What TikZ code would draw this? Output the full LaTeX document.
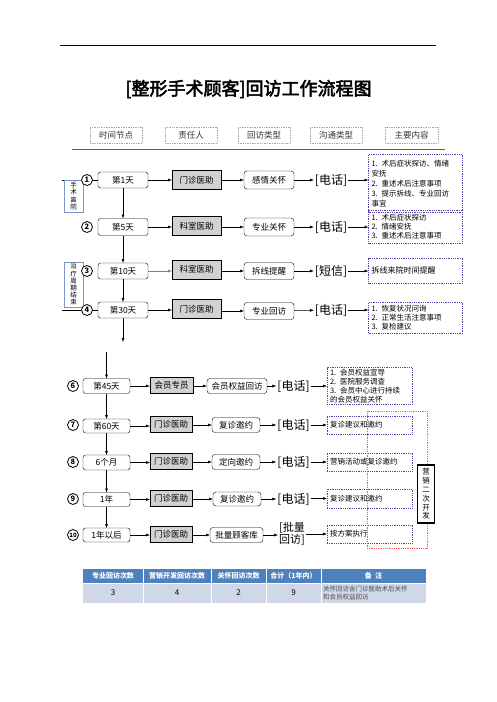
\documentclass[tikz,border=0pt]{standalone}
\usepackage{fontspec}
\setmainfont{Noto Sans CJK SC}
\newfontfamily\cjkbold[FakeBold=3]{Noto Sans CJK SC}
\usetikzlibrary{arrows.meta}
\definecolor{hdrline}{RGB}{70,95,125}
\definecolor{cpurple}{RGB}{90,60,170}
\definecolor{lblue}{RGB}{120,150,200}
\definecolor{tblue}{RGB}{79,129,189}
\definecolor{tbody}{RGB}{208,216,232}
\begin{document}
\begin{tikzpicture}[x=1pt,y=-1pt,
  every node/.style={inner sep=0pt, outer sep=0pt},
  hdr/.style={draw=gray!70, densely dotted, line width=0.7pt, font=\fontsize{8.5}{10}\selectfont, minimum height=16, text=black!80},
  daybox/.style={draw, rounded corners=2.5pt, font=\fontsize{8.5}{10}\selectfont},
  rolebox/.style={draw, fill=gray!35, font=\fontsize{8.5}{10}\selectfont},
  typebox/.style={draw, rounded corners=3pt, font=\fontsize{8.5}{10}\selectfont},
  comm/.style={font=\fontsize{12}{13}\selectfont, inner sep=1pt},
  content/.style={draw=cpurple, densely dotted, line width=0.8pt, align=left, font=\fontsize{7.5}{9.5}\selectfont, inner xsep=3pt},
  circ/.style={draw, circle, fill=white, line width=0.8pt, minimum size=11, font=\fontsize{7.5}{8}\selectfont\bfseries},
  vlabel/.style={draw=lblue, fill=white, align=center, font=\fontsize{6.5}{7.2}\selectfont},
  arr/.style={-{Latex[length=4pt,width=3pt]}, line width=0.5pt},
  th/.style={text=white, font=\fontsize{7}{8}\selectfont\bfseries},
  td/.style={font=\fontsize{8}{9}\selectfont}]
\useasboundingbox (0,0) rectangle (496,702);

% top rule and title
\draw[line width=0.8pt] (60,45) -- (436,45);
\node[font=\cjkbold\fontsize{18}{20}\selectfont] (title) at (248.5,89) {[整形手术顾客]回访工作流程图};

% headers
\node[hdr, minimum width=52] (h1) at (116,135) {时间节点};
\node[hdr, minimum width=52] (h2) at (191,135) {责任人};
\node[hdr, minimum width=52] (h3) at (264,135) {回访类型};
\node[hdr, minimum width=52] (h4) at (336,135) {沟通类型};
\node[hdr, minimum width=53] (h5) at (411.5,135) {主要内容};
\draw[hdrline, line width=1pt] (72,149) -- (445,149);

% ---------- upper section ----------
\node[daybox, minimum width=50, minimum height=16] (d1) at (123,180) {第1天};
\node[rolebox, minimum width=49, minimum height=19] (p1) at (196.5,180) {门诊医助};
\node[typebox, minimum width=50, minimum height=18] (t1) at (269,180) {感情关怀};
\node[comm] (c1) at (331,180) {[电话]};
\node[content, text width=88, minimum height=58, font=\fontsize{7.5}{10}\selectfont] (m1) at (415.5,183.5) {1. 术后症状探访、情绪\\安抚\\2. 重述术后注意事项\\3. 提示拆线、专业回访\\事宜};

\node[daybox, minimum width=50, minimum height=17] (d2) at (123,227) {第5天};
\node[rolebox, minimum width=49, minimum height=19] (p2) at (196.5,226) {科室医助};
\node[typebox, minimum width=50, minimum height=18] (t2) at (269,227) {专业关怀};
\node[comm] (c2) at (331,227) {[电话]};
\node[content, text width=88, minimum height=33, font=\fontsize{7.5}{9}\selectfont] (m2) at (415.5,226.5) {1. 术后症状探访\\2. 情绪安抚\\3. 重述术后注意事项};

\node[daybox, minimum width=50, minimum height=16] (d3) at (123,271) {第10天};
\node[rolebox, minimum width=49, minimum height=19] (p3) at (196.5,269.5) {科室医助};
\node[typebox, minimum width=50, minimum height=17] (t3) at (269,271) {拆线提醒};
\node[comm] (c3) at (331,271) {[短信]};
\node[content, text width=88, minimum height=25, font=\fontsize{8}{9.5}\selectfont] (m3) at (415.5,270.5) {拆线来院时间提醒};

\node[daybox, minimum width=50, minimum height=16] (d4) at (123,310) {第30天};
\node[rolebox, minimum width=49, minimum height=19] (p4) at (196.5,309) {门诊医助};
\node[typebox, minimum width=50, minimum height=17] (t4) at (269,311) {专业回访};
\node[comm] (c4) at (331,310) {[电话]};
\node[content, text width=88, minimum height=31, font=\fontsize{7.5}{9}\selectfont] (m4) at (415.5,318) {1. 恢复状况问询\\2. 正常生活注意事项\\3. 复检建议};

\foreach \i in {1,2,4} {
  \draw[arr] (d\i) -- (p\i.west |- d\i);
}
\draw[arr, gray] (d3) -- (p3.west |- d3);
\foreach \i in {1,2,3,4} {
  \draw[arr] (p\i.east |- t\i) -- (t\i);
  \draw[arr] (t\i) -- (c\i);
  \draw[arr] (c\i) -- (m\i.west |- c\i);
}
\draw[arr] (d1) -- (d2);
\draw[arr] (d2) -- (d3);
\draw[arr] (d3) -- (d4);
\coordinate (e4) at (123,342);
\draw[arr] (d4) -- (e4);

% left side labels
\coordinate (la) at (62,180);
\coordinate (lb) at (62,310);
\draw[line width=0.5pt] (la) -- (d1.west);
\draw[line width=0.5pt] (lb) -- (d4.west);
\node[vlabel, minimum width=19, minimum height=32] (L1) at (73.5,196) {手\\术\\离\\院};
\node[vlabel, minimum width=19, minimum height=45] (L2) at (73.5,284.5) {治\\疗\\周\\期\\结\\束};
\node[circ] (n1) at (87,180) {1};
\node[circ] (n2) at (87,227) {2};
\node[circ] (n3) at (87,271) {3};
\node[circ] (n4) at (87,310) {4};

% ---------- lower section ----------
\node[daybox, minimum width=47, minimum height=15] (d6) at (106.5,386) {第45天};
\node[rolebox, minimum width=43, minimum height=16] (p6) at (171.5,385.5) {会员专员};
\node[typebox, minimum width=60, minimum height=15] (t6) at (237,386) {会员权益回访};
\node[comm] (c6) at (293.5,386) {[电话]};
\node[content, text width=79, minimum height=37, font=\fontsize{7.5}{8.8}\selectfont] (m6) at (369.5,386) {1. 会员权益宣导\\2. 医院服务调查\\3. 会员中心进行持续\\的会员权益关怀};

\node[daybox, minimum width=47, minimum height=14] (d7) at (106.5,426) {第60天};
\node[rolebox, minimum width=42, minimum height=16] (p7) at (171,424.5) {门诊医助};
\node[typebox, minimum width=48, minimum height=15] (t7) at (236,425) {复诊邀约};
\node[comm] (c7) at (293.5,425) {[电话]};
\node[content, text width=79, minimum height=18] (m7) at (369.5,425) {复诊建议和邀约};

\node[daybox, minimum width=47, minimum height=15] (d8) at (106.5,462.5) {6个月};
\node[rolebox, minimum width=42, minimum height=16] (p8) at (171,461) {门诊医助};
\node[typebox, minimum width=48, minimum height=15] (t8) at (236,462) {定向邀约};
\node[comm] (c8) at (293.5,462) {[电话]};
\node[content, text width=79, minimum height=18] (m8) at (369.5,462) {营销活动或复诊邀约};

\node[daybox, minimum width=47, minimum height=14] (d9) at (106.5,499.5) {1年};
\node[rolebox, minimum width=42, minimum height=16] (p9) at (171,498.5) {门诊医助};
\node[typebox, minimum width=48, minimum height=14] (t9) at (237,499) {复诊邀约};
\node[comm] (c9) at (293.5,499) {[电话]};
\node[content, text width=79, minimum height=19] (m9) at (369.5,498.5) {复诊建议和邀约};

\node[daybox, minimum width=47, minimum height=14] (d10) at (106.5,535) {1年以后};
\node[rolebox, minimum width=42, minimum height=16] (p10) at (171,534.5) {门诊医助};
\node[typebox, minimum width=53, minimum height=15] (t10) at (236.5,535) {批量顾客库};
\node[comm, align=center, font=\fontsize{11}{11}\selectfont] (c10) at (292,534) {[批量\\回访]};
\node[content, text width=79, minimum height=18] (m10) at (369.5,534) {按方案执行};

\foreach \i in {6,7,8,9,10} {
  \draw[arr] (d\i) -- (p\i.west |- d\i);
  \draw[arr] (p\i.east |- t\i) -- (t\i);
  \draw[arr] (t\i) -- (c\i.west |- t\i);
  \draw[arr] (c\i.east |- m\i) -- (m\i);
}
\coordinate (s6) at (106.5,352);
\draw[arr] (s6) -- (d6);
\draw[arr] (d6) -- (d7);
\draw[arr] (d7) -- (d8);
\draw[arr] (d8) -- (d9);
\draw[arr] (d9) -- (d10);

\node[circ] (n6) at (73,386) {6};
\node[circ] (n7) at (73,425) {7};
\node[circ] (n8) at (73,462) {8};
\node[circ] (n9) at (73,499) {9};
\node[circ, font=\fontsize{6}{7}\selectfont\bfseries] (n10) at (73,535) {10};

% red marketing region
\node[draw=red!65, densely dotted, line width=0.8pt, minimum width=60, minimum height=137] (red) at (397,479.5) {};
\node[draw, line width=1.2pt, fill=white, minimum width=17, minimum height=58, align=center, font=\fontsize{7.5}{8.8}\selectfont] (yx) at (426,494) {营\\销\\二\\次\\开\\发};

% ---------- table ----------
\fill[tblue] (83,569) rectangle (426,583);
\fill[tbody] (83,583) rectangle (426,603);
\draw[white, line width=0.8pt] (83,583) -- (426,583);
\foreach \xx in {143,211,266,321} {
  \draw[white, line width=0.8pt] (\xx,569) -- (\xx,603);
}
\node[th] (th1) at (113,576) {专业回访次数};
\node[th] (th2) at (177,576) {营销开发回访次数};
\node[th] (th3) at (238.5,576) {关怀回访次数};
\node[th] (th4) at (293.5,576) {合计（1年内）};
\node[th] (th5) at (373.5,576) {备\ \ 注};
\node[td] (tv1) at (113,593) {3};
\node[td] (tv2) at (177,593) {4};
\node[td] (tv3) at (238.5,593) {2};
\node[td] (tv4) at (293.5,593) {9};
\node[anchor=west, align=left, text=black!70, font=\fontsize{6.5}{7.5}\selectfont] (tv5) at (323,593) {关怀回访含门诊医助术后关怀\\和会员权益回访};
\end{tikzpicture}
\end{document}
